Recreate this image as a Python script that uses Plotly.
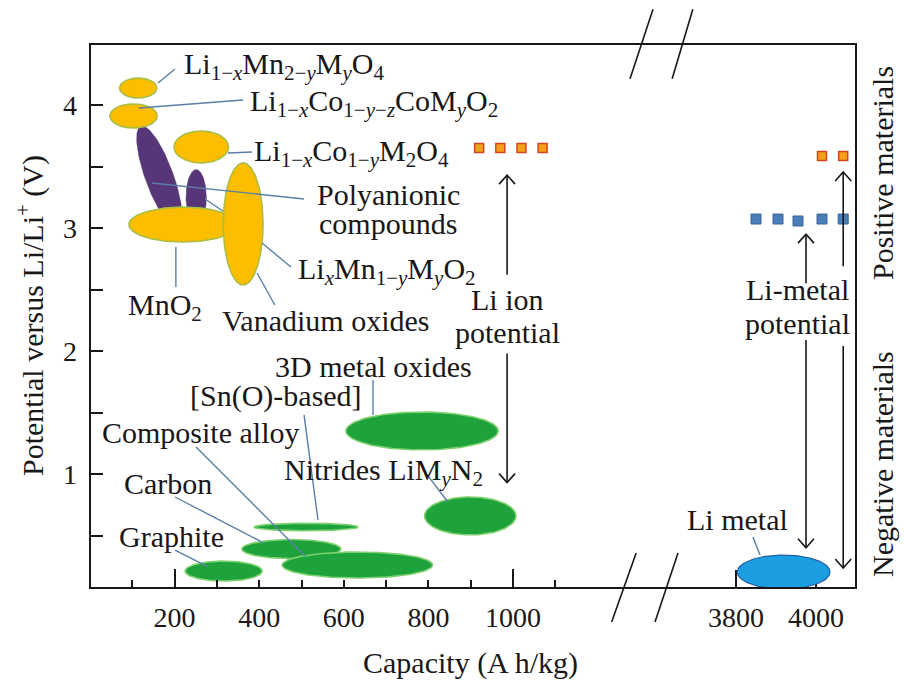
import numpy as np
import plotly.graph_objects as go

# ---------------- data ----------------
# Positive-electrode regions drawn in purple (polyanionic compounds)
purple_cap = [164, 251]          # capacity centre (A h/kg)
purple_volt = [3.415, 3.25]      # potential centre (V)
purple_cap_half = [33, 24]       # half capacity span
purple_volt_half = [0.44, 0.225] # half potential span
purple_tilt = [20, 0]            # tilt (deg)

# Positive-electrode regions drawn in yellow
yellow_names = ["MnO2", "Vanadium oxides", "Li1-xMn2-yMyO4",
                "Li1-xCo1-y-zCoMyO2", "Li1-xCo1-yM2O4"]
yellow_cap = [220, 362, 114, 103, 263]
yellow_volt = [3.028, 3.033, 4.138, 3.911, 3.659]
yellow_cap_half = [128, 47, 44, 56, 64.5]
yellow_volt_half = [0.142, 0.496, 0.081, 0.098, 0.13]

# Negative-electrode regions drawn in green
green_names = ["Nitrides", "3D metal oxides", "[Sn(O)-based]",
               "Carbon", "Composite alloy", "Graphite"]
green_cap = [899, 785, 511, 476, 632, 316]
green_volt = [0.659, 1.35, 0.569, 0.39, 0.26, 0.211]
green_cap_half = [108, 180, 123, 117, 178, 91]
green_volt_half = [0.154, 0.154, 0.03, 0.077, 0.106, 0.081]

# Li metal region (right, broken axis)
li_metal_cap = [3919]
li_metal_volt = [0.203]
li_metal_cap_half = [116]
li_metal_volt_half = [0.138]

# Potential markers
ion_sq_cap = [920, 970, 1020, 1070]
ion_sq_volt = [3.65, 3.65, 3.65, 3.65]
metal_orange_cap = [4015, 4068]
metal_orange_volt = [3.585, 3.585]
metal_blue_cap = [3850, 3905, 3955, 4015, 4068]
metal_blue_volt = [3.073, 3.073, 3.057, 3.073, 3.073]

# Arrows: (capacity, start potential, tip potential)
ion_arrows = [(986, 2.62, 3.43), (986, 1.98, 0.93)]
metal_arrows = [(3975, 2.55, 2.95), (3975, 2.09, 0.40),
                (4068, 2.69, 3.455), (4068, 2.04, 0.236)]

# Axis ticks
left_ticks = [200, 400, 600, 800, 1000]
left_minor = [100, 300, 500, 700, 900, 1100]
left_long = [200, 1000]
right_ticks = [3800, 4000]
y_ticks = [0.5, 1, 1.5, 2, 2.5, 3, 3.5, 4]
y_ticktext = ["", "1", "", "2", "", "3", "", "4"]

# ---------------- layout constants ----------------
KX_L = 0.423   # px per A h/kg on left part
KX_R = 0.40    # px per A h/kg on right part
KY = 123.0     # px per V
SERIF = "Liberation Serif"
INK = "#1A1718"

YELLOW = "#FDBE00"
YELLOW_EDGE = "#A9BE45"
PURPLE = "#573678"
GREEN = "#1EA33C"
GREEN_EDGE = "#7DD06F"
BLUE = "#1C9EE2"
BLUE_EDGE = "#23639F"
LEADER = "#5B7EA6"


def ellipse(cx, cy, a, b, tilt, kx):
    t = np.linspace(0, 2 * np.pi, 145)
    px = a * kx * np.cos(t)
    py = b * KY * np.sin(t)
    th = np.radians(tilt)
    rx = px * np.cos(th) - py * np.sin(th)
    ry = px * np.sin(th) + py * np.cos(th)
    return cx + rx / kx, cy + ry / KY


fig = go.Figure()


def add_ellipse(cx, cy, a, b, tilt, kx, fill, edge, width, xaxis="x"):
    xs, ys = ellipse(cx, cy, a, b, tilt, kx)
    fig.add_trace(go.Scatter(
        x=xs, y=ys, mode="lines", fill="toself", fillcolor=fill,
        line=dict(color=edge, width=width), xaxis=xaxis, yaxis="y",
        hoverinfo="skip", showlegend=False))


for i in range(len(purple_cap)):
    add_ellipse(purple_cap[i], purple_volt[i], purple_cap_half[i],
                purple_volt_half[i], purple_tilt[i], KX_L, PURPLE, PURPLE, 0.5)
for i in range(len(yellow_cap)):
    add_ellipse(yellow_cap[i], yellow_volt[i], yellow_cap_half[i],
                yellow_volt_half[i], 0, KX_L, YELLOW, YELLOW_EDGE, 1.6)
for i in range(len(green_cap)):
    add_ellipse(green_cap[i], green_volt[i], green_cap_half[i],
                green_volt_half[i], 0, KX_L, GREEN, GREEN_EDGE, 1.6)
add_ellipse(li_metal_cap[0], li_metal_volt[0], li_metal_cap_half[0],
            li_metal_volt_half[0], 0, KX_R, BLUE, BLUE_EDGE, 1.2, xaxis="x2")

# squares
fig.add_trace(go.Scatter(x=ion_sq_cap, y=ion_sq_volt, mode="markers",
                         marker=dict(symbol="square", size=9, color="#F6A01A",
                                     line=dict(color="#D2461E", width=1.5)),
                         xaxis="x", yaxis="y", hoverinfo="skip", showlegend=False))
fig.add_trace(go.Scatter(x=metal_orange_cap, y=metal_orange_volt, mode="markers",
                         marker=dict(symbol="square", size=9, color="#F6A01A",
                                     line=dict(color="#D2461E", width=1.5)),
                         xaxis="x2", yaxis="y", hoverinfo="skip", showlegend=False))
fig.add_trace(go.Scatter(x=metal_blue_cap, y=metal_blue_volt, mode="markers",
                         marker=dict(symbol="square", size=10, color="#4A7EBB",
                                     line=dict(color="#3A6496", width=1)),
                         xaxis="x2", yaxis="y", hoverinfo="skip", showlegend=False))


# arrows (shaft + open chevron head)
def add_arrow(x, y0, y1, kx, xaxis):
    d = 1 if y1 > y0 else -1
    hw, hh = 8.0, 9.0
    xs = [x, x, None, x - hw / kx, x, x + hw / kx]
    ys = [y0, y1, None, y1 - d * hh / KY, y1, y1 - d * hh / KY]
    fig.add_trace(go.Scatter(x=xs, y=ys, mode="lines",
                             line=dict(color=INK, width=1.6),
                             xaxis=xaxis, yaxis="y", hoverinfo="skip",
                             showlegend=False))


for (x, a, b) in ion_arrows:
    add_arrow(x, a, b, KX_L, "x")
for (x, a, b) in metal_arrows:
    add_arrow(x, a, b, KX_R, "x2")

# invisible trace for long-tick overlay axis
fig.add_trace(go.Scatter(x=[None], y=[None], xaxis="x3", yaxis="y",
                         showlegend=False, hoverinfo="skip"))

# leader lines (x-ref, y-ref endpoints)
leaders_left = [
    (160.8, 4.179, 201, 4.293),
    (115.8, 3.976, 361.7, 4.041),
    (326, 3.61, 383, 3.618),
    (146.6, 3.366, 506, 3.236),
    (272, 3.236, 314, 3.138),
    (406.6, 2.878, 475, 2.683),
    (395, 2.634, 437, 2.374),
    (203, 2.846, 203, 2.52),
    (669, 1.764, 669, 1.48),
    (506, 1.48, 539, 0.626),
    (250.6, 1.22, 508, 0.333),
    (201, 0.813, 411, 0.439),
    (201, 0.382, 279, 0.244),
    (801, 0.976, 846, 0.772),
]
shapes = []
for (x0, y0, x1, y1) in leaders_left:
    shapes.append(dict(type="line", xref="x", yref="y", x0=x0, y0=y0, x1=x1, y1=y1,
                       line=dict(color=LEADER, width=1.4), layer="above"))
shapes.append(dict(type="line", xref="x2", yref="y", x0=3842.5, y0=0.488,
                   x1=3860, y1=0.341, line=dict(color=LEADER, width=1.4), layer="above"))

# frame
shapes.append(dict(type="rect", xref="paper", yref="paper", x0=0, y0=0, x1=1, y1=1,
                   line=dict(color=INK, width=2), layer="above"))
# axis-break marks
for (x0, y0, x1, y1) in [(0.705, 0.936, 0.735, 1.064), (0.760, 0.936, 0.787, 1.064),
                         (0.681, -0.0625, 0.713, 0.0643), (0.7376, -0.0625, 0.7676, 0.0643)]:
    shapes.append(dict(type="line", xref="paper", yref="paper", x0=x0, y0=y0,
                       x1=x1, y1=y1, line=dict(color=INK, width=1.6), layer="above"))

FS = 30
ann = []


def label(text, x, y, xref="x", xanchor="left", size=FS, **kw):
    ann.append(dict(text=text, x=x, y=y, xref=xref, yref="y", xanchor=xanchor,
                    yanchor="middle", showarrow=False,
                    font=dict(family=SERIF, size=size, color=INK), **kw))


label("Li<sub>1−<i>x</i></sub>Mn<sub>2−<i>y</i></sub>M<sub><i>y</i></sub>O<sub>4</sub>", 217.5, 4.317)
label("Li<sub>1−<i>x</i></sub>Co<sub>1−<i>y</i>−<i>z</i></sub>CoM<sub><i>y</i></sub>O<sub>2</sub>", 373.5, 4.016)
label("Li<sub>1−<i>x</i></sub>Co<sub>1−<i>y</i></sub>M<sub>2</sub>O<sub>4</sub>", 383, 3.61)
label("Polyanionic", 704.5, 3.27, xanchor="center")
label("compounds", 704.5, 3.035, xanchor="center")
label("Li<sub><i>x</i></sub>Mn<sub>1−<i>y</i></sub>M<sub><i>y</i></sub>O<sub>2</sub>", 487, 2.65)
label("MnO<sub>2</sub>", 177, 2.358, xanchor="center")
label("Vanadium oxides", 555.6, 2.244, xanchor="center")
label("Li ion", 986, 2.415, xanchor="center")
label("potential", 986, 2.154, xanchor="center")
label("3D metal oxides", 671, 1.87, xanchor="center")
label("[Sn(O)-based]", 440, 1.634, xanchor="center")
label("Composite alloy", 262, 1.341, xanchor="center")
label("Nitrides LiM<sub><i>y</i></sub>N<sub>2</sub>", 454, 1.016)
label("Carbon", 184, 0.919, xanchor="center")
label("Graphite", 191.5, 0.488, xanchor="center")
label("Li metal", 3802.5, 0.634, xref="x2", xanchor="center")
label("Li-metal", 3952.5, 2.496, xref="x2", xanchor="center")
label("potential", 3952.5, 2.22, xref="x2", xanchor="center")

# side labels / titles (paper coordinates)
ann.append(dict(text="Positive materials", x=(882 - 90) / 766, y=(588 - 173) / 544,
                xref="paper", yref="paper", textangle=-90, showarrow=False,
                xanchor="center", yanchor="middle",
                font=dict(family=SERIF, size=FS, color=INK)))
ann.append(dict(text="Negative materials", x=(882 - 90) / 766, y=(588 - 464) / 544,
                xref="paper", yref="paper", textangle=-90, showarrow=False,
                xanchor="center", yanchor="middle",
                font=dict(family=SERIF, size=FS, color=INK)))
ann.append(dict(text="Potential versus Li/Li<sup>+</sup> (V)", x=(30 - 90) / 766,
                y=(588 - 316) / 544, xref="paper", yref="paper", textangle=-90,
                showarrow=False, xanchor="center", yanchor="middle",
                font=dict(family=SERIF, size=FS, color=INK)))
ann.append(dict(text="Capacity (A h/kg)", x=(470 - 90) / 766, y=(588 - 663) / 544,
                xref="paper", yref="paper", showarrow=False,
                xanchor="center", yanchor="middle",
                font=dict(family=SERIF, size=FS, color=INK)))

F_SPLIT = (645 - 90) / 766
tickfont = dict(family=SERIF, size=28, color=INK)

fig.update_layout(
    width=904, height=682,
    margin=dict(l=90, r=48, t=44, b=94, autoexpand=False),
    plot_bgcolor="white", paper_bgcolor="white",
    showlegend=False, hovermode=False,
    shapes=shapes, annotations=ann,
    xaxis=dict(domain=[0, F_SPLIT], range=[0, (645 - 90) / KX_L], anchor="y",
               tickmode="array", tickvals=left_ticks,
               ticktext=[str(v) for v in left_ticks],
               ticks="inside", ticklen=8, tickwidth=2, tickcolor=INK,
               minor=dict(tickmode="array", tickvals=left_minor, ticks="inside",
                          ticklen=8, tickwidth=2, tickcolor=INK, showgrid=False),
               showgrid=False, zeroline=False, showline=False,
               tickfont=tickfont, ticklabelstandoff=10, automargin=False),
    xaxis3=dict(overlaying="x", anchor="y", range=[0, (645 - 90) / KX_L],
                tickmode="array", tickvals=left_long, ticks="inside", ticklen=19,
                tickwidth=2, tickcolor=INK, showticklabels=False,
                showgrid=False, zeroline=False, showline=False, automargin=False),
    xaxis2=dict(domain=[F_SPLIT, 1], anchor="y",
                range=[3800 - (736 - 645) / KX_R, 3800 + (856 - 736) / KX_R],
                tickmode="array", tickvals=right_ticks,
                ticktext=[str(v) for v in right_ticks],
                ticks="inside", ticklen=18, tickwidth=2, tickcolor=INK,
                showgrid=False, zeroline=False, showline=False, layer="below traces",
                tickfont=tickfont, ticklabelstandoff=10, automargin=False),
    yaxis=dict(domain=[0, 1], anchor="x", range=[(597 - 588) / KY, (597 - 44) / KY],
               tickmode="array", tickvals=y_ticks, ticktext=y_ticktext,
               ticks="inside", ticklen=13, tickwidth=2, tickcolor=INK,
               showgrid=False, zeroline=False, showline=False,
               tickfont=tickfont, ticklabelstandoff=12, automargin=False),
)

fig.write_html("out.html", config={"displayModeBar": False, "staticPlot": True},
               post_script="document.body.style.margin='0';document.body.style.overflow='hidden';")
